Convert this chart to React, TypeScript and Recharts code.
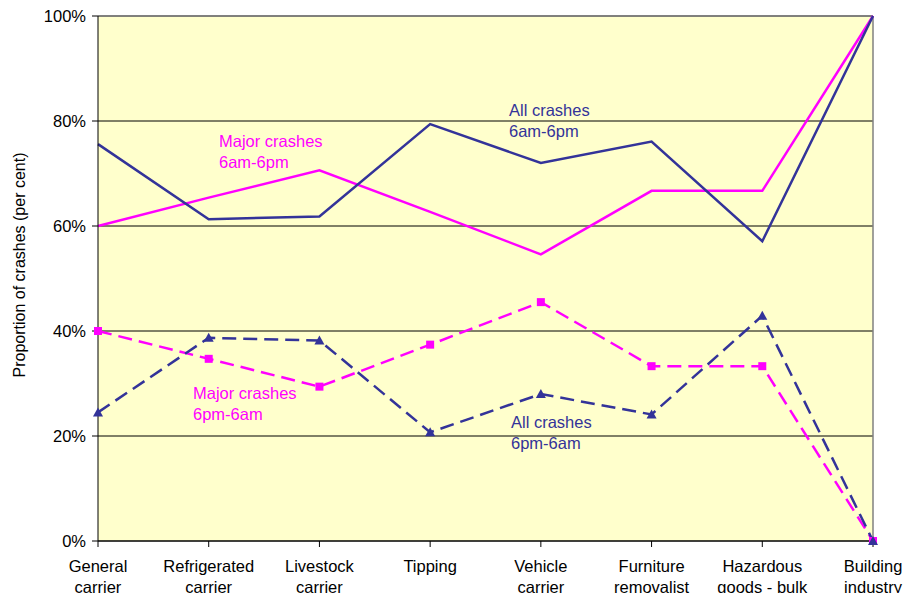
import { LineChart, Line, XAxis, YAxis, CartesianGrid, ReferenceLine } from 'recharts';

const categories = ['General\ncarrier', 'Refrigerated\ncarrier', 'Livestock\ncarrier', 'Tipping', 'Vehicle\ncarrier', 'Furniture\nremovalist', 'Hazardous\ngoods - bulk', 'Building\nindustry'];
const allDay = [75.6, 61.3, 61.8, 79.4, 72.0, 76.1, 57.1, 100];
const majorDay = [60.0, 65.4, 70.6, 62.7, 54.6, 66.7, 66.7, 100];
const majorNight = [40.0, 34.7, 29.4, 37.4, 45.5, 33.3, 33.3, 0];
const allNight = [24.5, 38.7, 38.2, 20.7, 28.0, 24.1, 42.9, 0];
const yTicks = [0, 20, 40, 60, 80, 100];

const NAVY = '#333399';
const MAGENTA = '#FF00FF';
const FONT = '"Liberation Sans", Arial, sans-serif';

const data = categories.map((c, i) => ({ cat: c, allDay: allDay[i], majorDay: majorDay[i], majorNight: majorNight[i], allNight: allNight[i] }));

function XTick({ x, y, payload }: any) {
  const lines = String(payload.value).split('\n');
  return (
    <text x={x} y={y} textAnchor="middle" fill="#000" fontSize={16.5} fontFamily={FONT}>
      {lines.map((l, i) => <tspan key={i} x={x} dy={i === 0 ? 23 : 20.5}>{l}</tspan>)}
    </text>
  );
}

function Triangle({ cx, cy }: any) {
  if (cx == null || cy == null) return null;
  return <path d={`M${cx},${cy - 5} L${cx + 5},${cy + 4} L${cx - 5},${cy + 4} Z`} fill={NAVY} />;
}

function Square({ cx, cy }: any) {
  if (cx == null || cy == null) return null;
  return <rect x={cx - 4} y={cy - 4} width={8} height={8} fill={MAGENTA} />;
}

const note = (left: number, top: number, color: string, l1: string, l2: string) => (
  <div style={{ position: 'absolute', left, top, color, fontFamily: FONT, fontSize: 16.5, lineHeight: '21px', whiteSpace: 'nowrap' }}>
    {l1}<br />{l2}
  </div>
);

export default function App() {
  return (
    <div style={{ position: 'absolute', left: 0, top: 0, width: 906, height: 593, background: '#fff', overflow: 'hidden' }}>
      <LineChart width={906} height={593} data={data} margin={{ top: 16, right: 33, left: 38, bottom: 0 }}>
        <CartesianGrid vertical={false} stroke="#000" fill="#FFFFCC" fillOpacity={1} />
        <XAxis dataKey="cat" interval={0} tick={<XTick />} tickSize={6} tickLine={{ stroke: '#000' }} axisLine={{ stroke: '#000' }} height={52} />
        <YAxis domain={[0, 100]} ticks={yTicks} width={60} tickFormatter={(v) => `${v}%`} tickSize={6} tickMargin={6} tickLine={{ stroke: '#000' }} axisLine={{ stroke: '#000' }}
          tick={{ fill: '#000', fontSize: 16.5, fontFamily: FONT }} />
        <ReferenceLine y={100} stroke="#808080" strokeWidth={1.5} />
        <ReferenceLine x={categories[categories.length - 1]} stroke="#808080" strokeWidth={1.5} />
        <Line dataKey="majorDay" stroke={MAGENTA} strokeWidth={2.5} dot={false} isAnimationActive={false} />
        <Line dataKey="allDay" stroke={NAVY} strokeWidth={2.5} dot={false} isAnimationActive={false} />
        <Line dataKey="majorNight" stroke={MAGENTA} strokeWidth={2.5} strokeDasharray="14 7" dot={<Square />} isAnimationActive={false} />
        <Line dataKey="allNight" stroke={NAVY} strokeWidth={2.5} strokeDasharray="14 7" dot={<Triangle />} isAnimationActive={false} />
      </LineChart>
      <div style={{ position: 'absolute', left: 20, top: 265, transform: 'translate(-50%, -50%) rotate(-90deg)', fontFamily: FONT, fontSize: 16, whiteSpace: 'nowrap', color: '#000' }}>
        Proportion of crashes (per cent)
      </div>
      {note(509, 100, NAVY, 'All crashes', '6am-6pm')}
      {note(219, 131, MAGENTA, 'Major crashes', '6am-6pm')}
      {note(193, 383, MAGENTA, 'Major crashes', '6pm-6am')}
      {note(511, 412, NAVY, 'All crashes', '6pm-6am')}
    </div>
  );
}
